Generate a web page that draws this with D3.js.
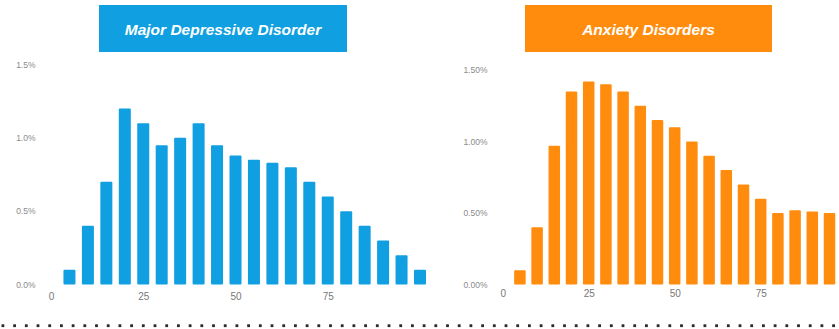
<!DOCTYPE html>
<html>
<head>
<meta charset="utf-8">
<script src="https://cdn.jsdelivr.net/npm/d3@7"></script>
<style>
  html, body { margin: 0; padding: 0; background: #fff; }
  svg { display: block; font-family: "Liberation Sans", Arial, sans-serif; }
</style>
</head>
<body>
<svg id="chart" width="839" height="329"></svg>
<script>
// Prevalence by age (share of population), five-year age steps
const ages = [5, 10, 15, 20, 25, 30, 35, 40, 45, 50, 55, 60, 65, 70, 75, 80, 85, 90, 95, 100];
const depressionValues = [0.001, 0.004, 0.007, 0.012, 0.011, 0.0095, 0.010, 0.011, 0.0095, 0.0088,
                          0.0085, 0.0083, 0.0080, 0.0070, 0.0060, 0.0050, 0.0040, 0.0030, 0.0020, 0.0010];
const anxietyAges = [5, 10, 15, 20, 25, 30, 35, 40, 45, 50, 55, 60, 65, 70, 75, 80, 85, 90, 95];
const anxietyValues = [0.001, 0.004, 0.0097, 0.0135, 0.0142, 0.0140, 0.0135, 0.0125, 0.0115, 0.0110,
                       0.0100, 0.0090, 0.0080, 0.0070, 0.0060, 0.0050, 0.0052, 0.0051, 0.0050];
const xTicks = [0, 25, 50, 75];
const yTicks = [0, 0.005, 0.010, 0.015];

const svg = d3.select("#chart");

function drawPanel(opts) {
  const g = svg.append("g");
  const x = d3.scaleLinear().domain([0, 100]).range(opts.xRange);
  const y = d3.scaleLinear().domain([0, 0.015]).range(opts.yRange);

  // title banner
  g.append("rect")
    .attr("x", opts.title.x).attr("y", 5)
    .attr("width", opts.title.w).attr("height", 47)
    .attr("fill", opts.color);
  g.append("text")
    .attr("x", opts.title.x + opts.title.w / 2).attr("y", 34.5)
    .attr("text-anchor", "middle")
    .attr("fill", "#fff")
    .style("font-size", "15.5px").style("font-weight", "bold").style("font-style", "italic")
    .text(opts.title.text);

  // y axis labels
  const yAxis = d3.axisLeft(y).tickValues(yTicks).tickSize(0).tickPadding(0)
    .tickFormat(d3.format(opts.yFormat));
  const ya = g.append("g").attr("transform", `translate(${opts.yLabelX},0)`).call(yAxis);
  ya.select(".domain").remove();
  ya.selectAll("text").attr("fill", "#8a8a8a").style("font-size", "8.5px")
    .style("font-family", "Liberation Sans, Arial, sans-serif");

  // x axis labels
  const xAxis = d3.axisBottom(x).tickValues(xTicks).tickSize(0).tickPadding(0);
  const xa = g.append("g").attr("transform", `translate(0,${opts.xLabelY})`).call(xAxis);
  xa.select(".domain").remove();
  xa.selectAll("text").attr("fill", "#777").style("font-size", "10px")
    .style("font-family", "Liberation Sans, Arial, sans-serif");

  // bars
  const bw = opts.barWidth;
  g.append("g").selectAll("rect")
    .data(opts.ages.map((a, i) => ({ age: a, v: opts.values[i] })))
    .join("rect")
    .attr("x", d => x(d.age) - bw / 2)
    .attr("y", d => y(d.v))
    .attr("width", bw)
    .attr("height", d => y(0) - y(d.v))
    .attr("rx", 1)
    .attr("fill", opts.color);
}

drawPanel({
  ages: ages, values: depressionValues,
  xRange: [51, 420], yRange: [284.5, 64.5],
  color: "#109fe0", barWidth: 12,
  yFormat: ".1%", yLabelX: 35.5, xLabelY: 292.5,
  title: { x: 99, w: 248, text: "Major Depressive Disorder" }
});

drawPanel({
  ages: anxietyAges, values: anxietyValues,
  xRange: [502.7, 846.7], yRange: [284.5, 70],
  color: "#ff8c0c", barWidth: 11.5,
  yFormat: ".2%", yLabelX: 487.5, xLabelY: 290,
  title: { x: 525, w: 247, text: "Anxiety Disorders" }
});

// dotted divider along the bottom
const dots = d3.range(3, 839, 11.7);
svg.append("g").selectAll("rect")
  .data(dots)
  .join("rect")
  .attr("x", d => d - 1.5)
  .attr("y", 324.3)
  .attr("width", 2.8).attr("height", 2.8)
  .attr("fill", "#2a2a2a");
</script>
</body>
</html>
